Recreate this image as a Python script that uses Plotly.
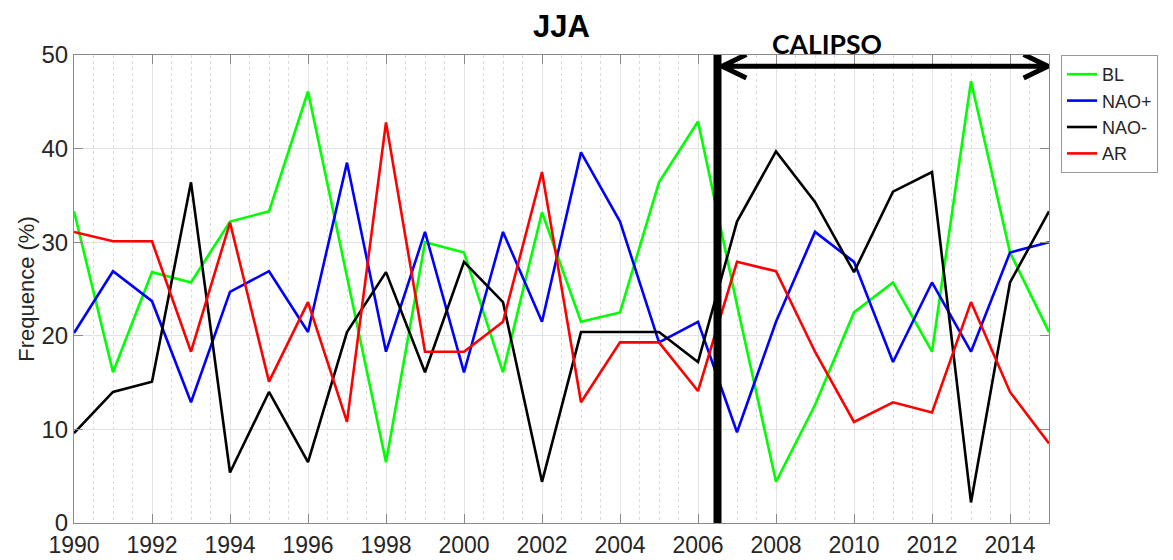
import plotly.graph_objects as go

years = list(range(1990, 2016))
bl = [33.3, 16.1, 26.8, 25.7, 32.2, 33.3, 46.1, 26.3, 6.5, 30.0, 28.9, 16.1, 33.2,
      21.5, 22.5, 36.4, 42.9, 23.3, 4.4, 12.6, 22.5, 25.7, 18.3, 47.2, 28.9, 20.4]
nao_plus = [20.3, 26.9, 23.7, 12.9, 24.7, 26.9, 20.4, 38.5, 18.3, 31.1, 16.1, 31.1, 21.5,
            39.6, 32.2, 19.3, 21.5, 9.7, 21.5, 31.1, 27.9, 17.2, 25.7, 18.3, 28.9, 30.0]
nao_minus = [9.6, 14.0, 15.1, 36.4, 5.4, 14.0, 6.5, 20.4, 26.8, 16.1, 27.9, 23.6, 4.4,
             20.4, 20.4, 20.4, 17.2, 32.2, 39.7, 34.3, 26.8, 35.4, 37.5, 2.2, 25.7, 33.3]
ar = [31.1, 30.1, 30.1, 18.3, 32.1, 15.1, 23.6, 10.8, 42.8, 18.3, 18.3, 21.5, 37.5,
      12.9, 19.3, 19.3, 14.1, 27.9, 26.9, 18.3, 10.8, 12.9, 11.8, 23.6, 14.0, 8.5]

series_names = ["BL", "NAO+", "NAO-", "AR"]
series_colors = ["#00ff00", "#0000ff", "#000000", "#ff0000"]
series_values = [bl, nao_plus, nao_minus, ar]

x_ticks = list(range(1990, 2015, 2))
y_ticks = [0, 10, 20, 30, 40, 50]

calipso_start = 2006.5
calipso_end = 2015
arrow_y = 48.8

# page body has an 8px margin: figure origin sits at (8, 8) in the window
OFF = 8
W, H = 1173 - OFF, 560 - OFF
PL, PR, PT, PB = 74, 1049, 55, 523  # plot area in window pixels
ml, mr, mt, mb = PL - OFF, W - (PR - OFF), PT - OFF, H - (PB - OFF)
pw, ph = PR - PL, PB - PT

fig = go.Figure()
for name, color, vals in zip(series_names, series_colors, series_values):
    fig.add_trace(go.Scatter(x=years, y=vals, mode="lines", name=name,
                             line=dict(color=color, width=2.6)))

# CALIPSO vertical bar
fig.add_shape(type="line", x0=calipso_start, x1=calipso_start, y0=0, y1=50,
              xref="x", yref="y", line=dict(color="black", width=8), layer="above")
# double arrow
ax0 = calipso_start + 0.12
ax1 = calipso_end - 0.03
hx = 0.62
hy = 1.25
path = (f"M {ax0},{arrow_y} L {ax1},{arrow_y} "
        f"M {ax0 + hx},{arrow_y + hy} L {ax0},{arrow_y} L {ax0 + hx},{arrow_y - hy} "
        f"M {ax1 - hx},{arrow_y + hy} L {ax1},{arrow_y} L {ax1 - hx},{arrow_y - hy}")
fig.add_shape(type="path", path=path, xref="x", yref="y",
              line=dict(color="black", width=5), layer="above")

fig.add_annotation(x=(884 - PL) / pw, y=1 + (PT - 44) / ph, xref="paper", yref="paper",
                   text="<b>CALIPSO</b>", showarrow=False,
                   font=dict(family="Lato", size=26.5, color="black"), yanchor="middle")
fig.add_annotation(x=(561 - PL) / pw, y=1 + (PT - 27) / ph, xref="paper", yref="paper",
                   text="<b>JJA</b>", showarrow=False,
                   font=dict(family="Liberation Sans", size=31, color="black"),
                   yanchor="middle")

fig.update_layout(
    width=W, height=H,
    margin=dict(l=ml, r=mr, t=mt, b=mb, pad=0, autoexpand=False),
    paper_bgcolor="white", plot_bgcolor="white",
    font=dict(family="Liberation Sans, Arial", color="#262626"),
    showlegend=True,
    legend=dict(x=(1061 - PL) / pw, y=1.0, xanchor="left", yanchor="top",
                bordercolor="#999999", borderwidth=1, bgcolor="white",
                font=dict(size=18, color="#262626"), tracegroupgap=0,
                itemwidth=30),
)

fig.update_xaxes(range=[1990, 2015], tickmode="array",
                 tickvals=x_ticks, ticktext=[str(v) for v in x_ticks],
                 automargin=False,
                 showgrid=True, gridcolor="#e3e3e3", gridwidth=1,
                 showline=True, linecolor="#8a8a8a", linewidth=1, mirror="allticks",
                 ticks="inside", ticklen=9, tickcolor="#8a8a8a",
                 ticklabelstandoff=1,
                 tickfont=dict(size=23, color="#262626"),
                 minor=dict(dtick=0.5, tick0=1990, showgrid=True, gridcolor="#dcdcdc",
                            griddash="dot", gridwidth=1),
                 zeroline=False)
fig.update_yaxes(range=[0, 50], tickvals=y_ticks, automargin=False,
                 showgrid=True, gridcolor="#e3e3e3", gridwidth=1,
                 showline=True, linecolor="#8a8a8a", linewidth=1, mirror="allticks",
                 ticks="inside", ticklen=9, tickcolor="#8a8a8a",
                 tickfont=dict(size=24, color="#262626"),
                 title=dict(text="Frequence (%)", font=dict(size=22, color="#262626"),
                            standoff=0),
                 zeroline=False)

fig.write_html("out.html")
